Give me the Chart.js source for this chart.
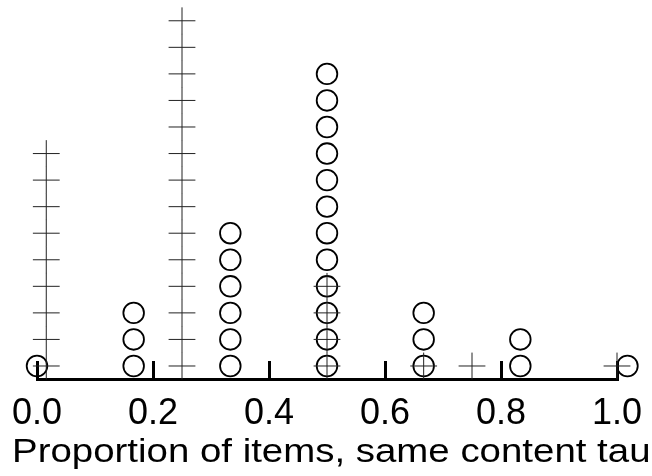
<!DOCTYPE html>
<html><head><meta charset="utf-8">
<script src="https://cdn.jsdelivr.net/npm/chart.js@4"></script>
<style>html,body{margin:0;padding:0;background:#fff;}#wrap{width:652px;height:476px;position:relative;}</style>
</head><body><div id="wrap"><canvas id="c" width="652" height="476"></canvas></div>
<script>
// Dot-plot data: x position of each stack and how many marks are stacked there
const circleX = [0, 1/6, 1/3, 0.5, 2/3, 5/6, 1.018];
const circleCounts = [1, 3, 6, 12, 3, 2, 2];
const plusX = [0.016, 0.25, 0.5, 2/3, 0.75, 1.0];
const plusCounts = [9, 14, 4, 1, 1, 1];
const tickValues = [0, 0.2, 0.4, 0.6, 0.8, 1.0];
const tickLabels = ['0.0', '0.2', '0.4', '0.6', '0.8', '1.0'];
const axisTitle = 'Proportion of items, same content taught';

function stack(xs, counts) {
  const pts = [];
  xs.forEach((x, i) => { for (let k = 1; k <= counts[i]; k++) pts.push({x: x, y: k}); });
  return pts;
}

const titlePlugin = {
  id: 'bottomTitle',
  afterDraw(chart) {
    const ctx = chart.ctx;
    ctx.save();
    ctx.fillStyle = '#000';
    ctx.font = '34px "Liberation Sans", Arial, sans-serif';
    ctx.textAlign = 'left';
    ctx.textBaseline = 'alphabetic';
    ctx.translate(12, 462);
    ctx.scale(1.13, 1);
    ctx.fillText(axisTitle, 0, 0);
    ctx.restore();
  }
};

new Chart(document.getElementById('c'), {
  type: 'scatter',
  data: {
    datasets: [
      {
        label: 'plus',
        data: stack(plusX, plusCounts),
        pointStyle: 'cross',
        pointRadius: 13.4,
        pointHoverRadius: 13.4,
        pointBorderWidth: 1,
        pointBorderColor: '#222',
        clip: false
      },
      {
        label: 'circle',
        data: stack(circleX, circleCounts),
        pointStyle: 'circle',
        pointRadius: 10.3,
        pointHoverRadius: 10.3,
        pointBorderWidth: 1.8,
        pointBorderColor: '#000',
        pointBackgroundColor: 'rgba(0,0,0,0)',
        clip: false
      }
    ]
  },
  options: {
    responsive: false,
    animation: false,
    devicePixelRatio: 1,
    layout: {padding: {left: 37, right: 35, top: 0, bottom: 0}},
    plugins: {legend: {display: false}, tooltip: {enabled: false}, title: {display: false}},
    events: [],
    scales: {
      x: {
        type: 'linear',
        min: 0,
        max: 1,
        afterBuildTicks: s => { s.ticks = tickValues.map(v => ({value: v})); },
        afterFit: s => { s.height = 476 - 379; s.paddingLeft = 0; s.paddingRight = 0; },
        ticks: {
          callback: (v, i) => tickLabels[i],
          font: {family: '"Liberation Sans", Arial, sans-serif', size: 36},
          color: '#000',
          padding: 31,
          autoSkip: false,
          maxRotation: 0
        },
        grid: {drawOnChartArea: false, drawTicks: true, tickLength: -18, tickWidth: 3, lineWidth: 3, color: '#000'},
        border: {display: true, color: '#000', width: 3}
      },
      y: {display: false, min: 0.51, max: 14.24}
    }
  },
  plugins: [titlePlugin]
});
</script>
</body></html>
